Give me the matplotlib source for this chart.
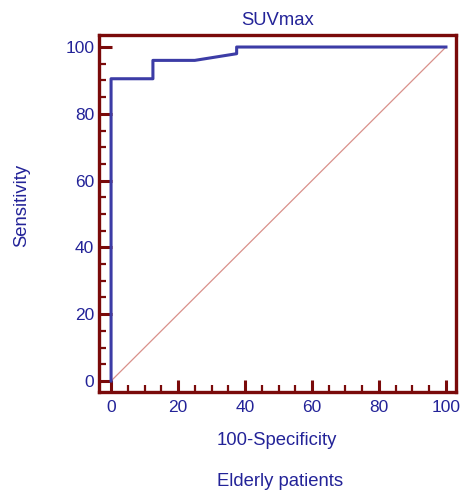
import matplotlib
matplotlib.use("Agg")
import matplotlib.pyplot as plt
from matplotlib.ticker import MultipleLocator

# ROC curve points (100-Specificity, Sensitivity)
fpr = [0, 0, 12.5, 12.5, 25, 37.5, 37.5, 100]
tpr = [0, 90.5, 90.5, 96, 96, 98, 100, 100]
ticks = [0, 20, 40, 60, 80, 100]

text_col = '#232398'
frame_col = '#7a0a0a'
line_col = '#3c3ca6'
diag_col = '#d9908a'

plt.rcParams['font.family'] = ['Liberation Sans', 'DejaVu Sans']

W, H = 461, 491
fig = plt.figure(figsize=(W/100, H/100), dpi=100)
ax = fig.add_axes([99/W, 1-392/H, 357/W, 357/H])

# reference diagonal
ax.plot([0, 100], [0, 100], color=diag_col, lw=0.9)
# ROC curve
ax.plot(fpr, tpr, color=line_col, lw=2.2)

ax.set_xlim(-3.6, 103)
ax.set_ylim(-3.3, 103.6)
ax.set_xticks(ticks)
ax.set_yticks(ticks)
ax.xaxis.set_minor_locator(MultipleLocator(5))
ax.yaxis.set_minor_locator(MultipleLocator(5))
ax.tick_params(which='major', direction='in', length=9, width=2.2, color=frame_col,
               labelcolor=text_col, labelsize=12.5)
ax.tick_params(axis='x', which='major', pad=6)
ax.tick_params(axis='y', which='major', pad=3.5)
ax.tick_params(which='minor', direction='in', length=5, width=1.6, color=frame_col)
for s in ax.spines.values():
    s.set_color(frame_col)
    s.set_linewidth(2.4)

# titles and labels
fig.text(278/W, 1-25/H, 'SUVmax', color=text_col, fontsize=13.3, ha='center', va='baseline')
fig.text(277/W, 1-445/H, '100-Specificity', color=text_col, fontsize=13.3, ha='center', va='baseline')
fig.text(280/W, 1-486/H, 'Elderly patients', color=text_col, fontsize=13.3, ha='center', va='baseline')
fig.text(21.5/W, 1-205/H, 'Sensitivity', color=text_col, fontsize=13.3, rotation=90,
         ha='center', va='center')

fig.savefig('out.png', dpi=100)
